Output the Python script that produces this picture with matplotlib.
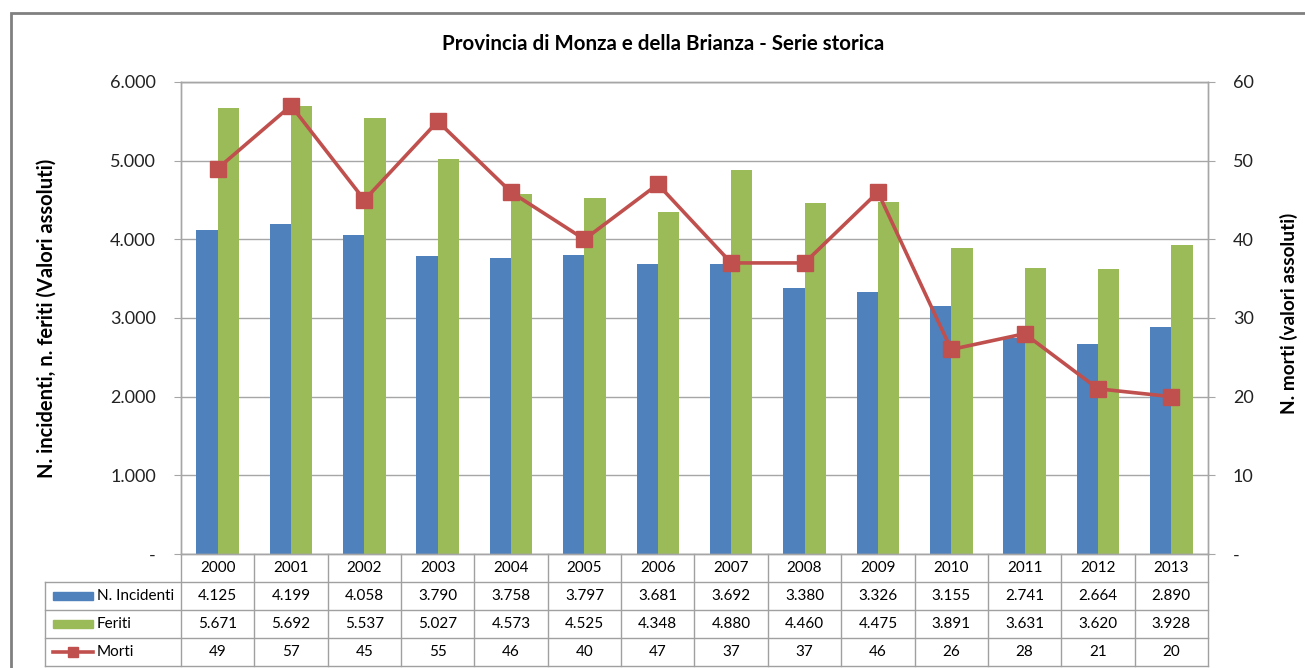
import matplotlib
matplotlib.use("Agg")
import matplotlib.pyplot as plt
import numpy as np
from matplotlib.transforms import blended_transform_factory
from matplotlib.patches import Rectangle
from matplotlib.lines import Line2D

plt.rcParams['font.family'] = ['Lato', 'DejaVu Sans']

anni = ['2000', '2001', '2002', '2003', '2004', '2005', '2006',
        '2007', '2008', '2009', '2010', '2011', '2012', '2013']
incidenti = [4125, 4199, 4058, 3790, 3758, 3797, 3681, 3692, 3380, 3326, 3155, 2741, 2664, 2890]
feriti = [5671, 5692, 5537, 5027, 4573, 4525, 4348, 4880, 4460, 4475, 3891, 3631, 3620, 3928]
morti = [49, 57, 45, 55, 46, 40, 47, 37, 37, 46, 26, 28, 21, 20]

serie_nomi = ['N. Incidenti', 'Feriti', 'Morti']
c_blu = '#4F81BD'
c_verde = '#9BBB59'
c_rosso = '#C0504D'
grigio = '#A6A6A6'


def fmt(v):
    return '{:,}'.format(v).replace(',', '.')


W, H = 1305, 668
fig = plt.figure(figsize=(W / 100, H / 100), dpi=100)

# outer chart frame
fig.patches.append(Rectangle((11 / W, -0.1), 1.2, 1 - 13 / H + 0.1, transform=fig.transFigure,
                             fill=False, edgecolor='#808080', linewidth=2))

left, right, top, bottom = 181, 1208, 82, 554
ax = fig.add_axes([left / W, 1 - bottom / H, (right - left) / W, (bottom - top) / H])
ax2 = ax.twinx()

n = len(anni)
catw = (right - left) / n


def px2x(px):
    return -0.5 + (px - left) / catw


x = np.arange(n)
bw = 0.29
ax.bar(x - bw / 2, incidenti, bw, color=c_blu, zorder=2)
ax.bar(x + bw / 2, feriti, bw, color=c_verde, zorder=2)
ax.set_xlim(-0.5, n - 0.5)
ax.set_ylim(0, 6000)
ax.set_yticks(np.arange(0, 6001, 1000))
ax.set_yticklabels(['-'] + [fmt(v) for v in range(1000, 6001, 1000)])
ax.yaxis.grid(True, color=grigio, linewidth=1)
ax.set_axisbelow(True)
ax.set_xticks([])

ax2.plot(x, morti, color=c_rosso, linewidth=2.6, marker='s', markersize=12,
         markeredgecolor=c_rosso, zorder=5)
ax2.set_ylim(0, 60)
ax2.set_yticks(np.arange(0, 61, 10))
ax2.set_yticklabels(['-'] + [str(v) for v in range(10, 61, 10)])

for a in (ax, ax2):
    for s in a.spines.values():
        s.set_color(grigio)
        s.set_linewidth(1)
    a.tick_params(axis='y', length=5, color=grigio, labelsize=13, pad=13, labelcolor='#222222')

fig.text(47 / W, 1 - 318 / H, 'N. incidenti, n. feriti (Valori assoluti)', rotation=90,
         ha='center', va='center', fontsize=14.5, fontweight='bold')
fig.text(1289 / W, 1 - 313 / H, 'N. morti (valori assoluti)', rotation=90,
         ha='center', va='center', fontsize=13.7, fontweight='bold')

fig.text((443 + 884) / 2 / W, 1 - 44 / H, 'Provincia di Monza e della Brianza - Serie storica',
         ha='center', va='center', fontsize=14.8, fontweight='bold')

# data table under the chart
tr = blended_transform_factory(ax.transData, ax.transAxes)
rh = 28 / (bottom - top)
tab_left = px2x(45)
righe = [list(anni),
         [fmt(v) for v in incidenti],
         [fmt(v) for v in feriti],
         [str(v) for v in morti]]
lc = '#A0A0A0'
for r in range(1, 5):
    y = -r * rh
    ax.add_line(Line2D([tab_left, n - 0.5], [y, y], transform=tr, color=lc, lw=1, clip_on=False))
for i in range(n + 1):
    ax.add_line(Line2D([i - 0.5, i - 0.5], [0, -4 * rh], transform=tr, color=lc, lw=1, clip_on=False))
ax.add_line(Line2D([tab_left, tab_left], [-rh, -4 * rh], transform=tr, color=lc, lw=1, clip_on=False))

for r, riga in enumerate(righe):
    yc = -(r + 0.5) * rh
    for i, t in enumerate(riga):
        ax.text(i, yc, t, transform=tr, ha='center', va='center', fontsize=11, clip_on=False)

# legend keys in the first column
key_x0 = px2x(53)
key_x1 = px2x(93)
kh = 8 / (bottom - top)
for r, (nome, col) in enumerate(zip(serie_nomi, [c_blu, c_verde, c_rosso])):
    yc = -(r + 1.5) * rh
    if r < 2:
        ax.add_patch(Rectangle((key_x0, yc - kh / 2), key_x1 - key_x0, kh, transform=tr,
                               color=col, clip_on=False))
    else:
        ax.add_line(Line2D([key_x0, key_x1], [yc, yc], transform=tr, color=col, lw=2.6, clip_on=False))
        ax.add_line(Line2D([(key_x0 + key_x1) / 2], [yc], transform=tr, color=col, marker='s',
                           markersize=7, clip_on=False))
    ax.text(px2x(97), yc, nome, transform=tr, ha='left', va='center', fontsize=11, clip_on=False)

fig.savefig('out.png', dpi=100)
